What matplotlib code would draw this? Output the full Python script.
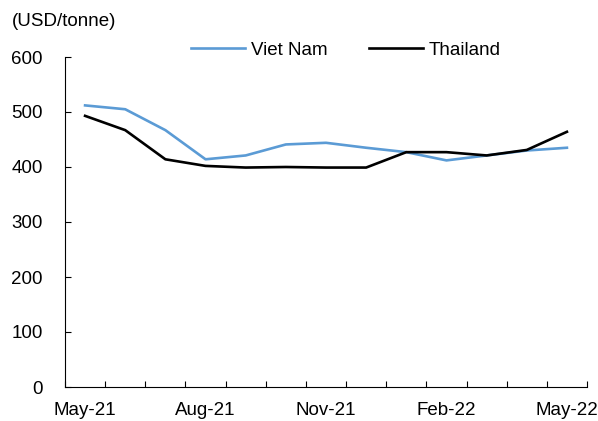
import numpy as np
import matplotlib.pyplot as plt

plt.rcParams['font.family'] = ['Liberation Sans', 'DejaVu Sans']

# Datos (USD/tonelada)
months = ['May-21', 'Jun-21', 'Jul-21', 'Aug-21', 'Sep-21', 'Oct-21', 'Nov-21',
          'Dec-21', 'Jan-22', 'Feb-22', 'Mar-22', 'Apr-22', 'May-22']
viet_nam = [512, 505, 467, 414, 421, 441, 444, 435, 427, 412, 421, 430, 435]
thailand = [493, 467, 414, 402, 399, 400, 399, 399, 427, 427, 421, 431, 464]
label_every = 3

x = np.arange(len(months))

fig = plt.figure(figsize=(5.98, 4.21), dpi=100)
ax = fig.add_axes([65/598, 34/421, 522/598, 330/421])

ax.plot(x, viet_nam, color='#5B9BD5', lw=1.9, label='Viet Nam')
ax.plot(x, thailand, color='black', lw=1.9, label='Thailand')

ax.set_xlim(-0.5, len(months) - 0.5)
ax.set_ylim(0, 600)
ax.set_yticks(np.arange(0, 601, 100))

ax.set_xticks(x[::label_every])
ax.set_xticklabels(months[::label_every])
ax.set_xticks(np.arange(-0.5, len(months)), minor=True)
ax.tick_params(axis='x', which='major', length=0, pad=11, labelsize=13.5)
ax.tick_params(axis='x', which='minor', direction='in', length=4, width=0.8)
ax.tick_params(axis='y', direction='in', length=4, width=0.8, pad=16, labelsize=13.5)

for s in ['top', 'right']:
    ax.spines[s].set_visible(False)
for s in ['left', 'bottom']:
    ax.spines[s].set_linewidth(0.8)

ax.legend(loc='center', bbox_to_anchor=(0.538, 1.021), ncol=2, frameon=False,
          fontsize=13.5, handlelength=2.9, handletextpad=0.3, columnspacing=2.2)

fig.text(12/598, 1 - 22/421, '(USD/tonne)', fontsize=13.5, va='center', ha='left')

fig.savefig('out.png', dpi=100)
